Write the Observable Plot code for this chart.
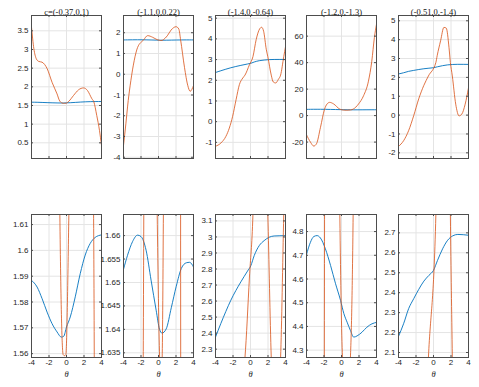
<!DOCTYPE html>
<html><head><meta charset="utf-8">
<script src="https://cdn.jsdelivr.net/npm/d3@7"></script>
<script src="https://cdn.jsdelivr.net/npm/@observablehq/plot@0.6"></script>
<style>
body{margin:0;background:#fff;}
#chart{position:relative;width:479px;height:387px;overflow:hidden;}
#chart svg{position:absolute;}
</style></head><body><div id="chart"></div>
<script>
const titles = ["c=(-0.37,0,1)", "(-1.1,0,0.22)", "(-1.4,0,-0.64)", "(-1.2,0,-1.3)", "(-0.51,0,-1.4)"];
const xTicks = [-4, -2, 0, 2, 4];
const xLimits = [-4, 4];
const thetaLabel = "θ";

const topYTicks = [
  [0.5, 1, 1.5, 2, 2.5, 3, 3.5],
  [-4, -3, -2, -1, 0, 1, 2],
  [-1, 0, 1, 2, 3, 4, 5],
  [-20, 0, 20, 40, 60],
  [-2, -1, 0, 1, 2, 3, 4, 5]
];
const topYLimits = [[0.08, 3.91], [-4.06, 2.83], [-1.78, 5.13], [-32.4, 75.6], [-2.3, 5.28]];

const bottomYTicks = [
  [1.56, 1.57, 1.58, 1.59, 1.6, 1.61],
  [1.635, 1.64, 1.645, 1.65, 1.655, 1.66],
  [2.3, 2.4, 2.5, 2.6, 2.7, 2.8, 2.9, 3, 3.1],
  [4.3, 4.4, 4.5, 4.6, 4.7, 4.8],
  [2.1, 2.2, 2.3, 2.4, 2.5, 2.6, 2.7]
];
const bottomYLimits = [[1.5585, 1.6139], [1.634, 1.6645], [2.248, 3.14], [4.269, 4.872], [2.075, 2.792]];

// blue series (theta, value)
const blue1 = [[-4,1.5884],[-3.36,1.5858],[-2.79,1.5813],[-2.22,1.5761],[-1.65,1.5716],[-1.08,1.5684],[-0.59,1.5664],[-0.32,1.5667],[0,1.5703],[0.43,1.5742],[1.0,1.582],[1.57,1.591],[2.14,1.5982],[2.71,1.6027],[3.27,1.605],[4,1.606]];
const blue2 = [[-4,1.6528],[-3.54,1.6558],[-2.97,1.6587],[-2.39,1.6601],[-2.0,1.6598],[-1.42,1.6569],[-0.85,1.6505],[-0.27,1.6441],[0.12,1.64],[0.4,1.6392],[0.88,1.6401],[1.46,1.6446],[2.03,1.6492],[2.61,1.653],[3.18,1.6542],[3.56,1.6543],[4,1.6533]];
const blue3 = [[-4,2.375],[-3.39,2.46],[-2.82,2.535],[-2.25,2.605],[-1.68,2.665],[-1.1,2.72],[-0.34,2.787],[0.04,2.821],[0.42,2.883],[1.0,2.946],[1.56,2.977],[2.13,2.998],[2.7,3.006],[4,3.008]];
const blue4 = [[-4,4.703],[-3.55,4.755],[-3.17,4.779],[-2.79,4.783],[-2.41,4.773],[-1.84,4.727],[-1.25,4.657],[-0.68,4.58],[-0.11,4.51],[0.27,4.454],[0.64,4.418],[1.02,4.383],[1.4,4.355],[1.78,4.36],[2.35,4.376],[2.91,4.397],[3.48,4.411],[4,4.417]];
const blue5 = [[-4,2.181],[-3.42,2.244],[-2.84,2.32],[-2.26,2.37],[-1.68,2.417],[-1.1,2.458],[-0.52,2.487],[0,2.512],[0.46,2.562],[1.04,2.62],[1.62,2.663],[2.2,2.685],[2.78,2.692],[4,2.688]];

// orange series (theta, value)
const orange1 = [[-4,3.6],[-3.73,3.02],[-3.45,2.75],[-3.17,2.68],[-2.8,2.66],[-2.2,2.48],[-1.65,2.12],[-1.08,1.81],[-0.76,1.614],[-0.38,1.5596],[-0.23,1.5592],[-0.08,1.5596],[0.27,1.614],[0.81,1.77],[1.38,1.92],[1.95,1.97],[2.4,1.9],[2.9,1.68],[3.12,1.6],[3.46,1.23],[3.77,0.83],[4,0.43]];
const orange2 = [[-4,-3.43],[-3.73,-2.39],[-3.46,-1.27],[-3.16,-0.31],[-2.78,0.65],[-2.39,1.29],[-1.71,1.65],[-1.24,1.86],[-0.67,1.78],[-0.15,1.665],[0.13,1.634],[0.27,1.628],[0.42,1.634],[0.56,1.665],[1.0,1.85],[1.44,2.13],[2.01,2.29],[2.32,2.18],[2.53,1.65],[2.97,0.33],[3.35,-0.55],[3.62,-0.82],[4,-0.55]];
const orange3 = [[-4,-1.19],[-3.38,-1.03],[-2.81,-0.71],[-2.42,-0.31],[-2.04,0.26],[-1.65,1.06],[-1.27,1.79],[-0.88,2.11],[-0.63,2.25],[-0.12,2.75],[0.28,3.14],[0.65,3.97],[1.04,4.48],[1.27,4.56],[1.5,4.37],[1.8,3.5],[1.98,3.14],[2.37,2.25],[2.6,1.92],[2.88,1.87],[3.19,2.05],[3.44,2.25],[3.8,3.14],[4,3.62]];
const orange4 = [[-4,-14.5],[-3.55,-20],[-3.17,-23],[-2.86,-21.3],[-2.4,-8.8],[-1.95,4.57],[-1.65,8.8],[-1.35,10],[-0.9,8.8],[-0.19,4.87],[0.11,4.27],[0.55,4.05],[1.02,4.27],[1.33,4.87],[1.95,8.8],[2.52,15],[3.08,26],[3.46,41],[3.76,59],[4,69]];
const orange5 = [[-4,-1.66],[-3.42,-1.36],[-2.85,-0.83],[-2.27,-0.04],[-1.69,0.86],[-1.12,1.56],[-0.58,2.075],[0.27,2.79],[0.42,3.15],[0.81,3.94],[1.19,4.65],[1.46,4.61],[1.77,3.59],[1.93,2.79],[2.15,2.075],[2.54,0.58],[2.92,-0.04],[3.23,0.05],[3.62,0.58],[4,1.44]];

const blues = [blue1, blue2, blue3, blue4, blue5];
const oranges = [orange1, orange2, orange3, orange4, orange5];

// layout
const frameLefts = [31, 123, 215, 306, 398];
const frameTops = [15, 214];
const FW = 70, FH = 143;
const ML = 30, MR = 8, MT = 15, MB = 30;
const TL = 2;
const BLUE = "#0072BD", ORANGE = "#D95319", GRID = "#e4e4e4", FRAME = "#4d4d4d", TEXT = "#262626";
const SANS = "'Liberation Sans', Arial, Helvetica, sans-serif";
const SERIF = "'Liberation Serif', 'Times New Roman', serif";
const fmt = d => String(d);

const chart = document.getElementById("chart");

function makePanel(i, row) {
  const isTop = row === 0;
  const yDomain = isTop ? topYLimits[i] : bottomYLimits[i];
  const yTicks = isTop ? topYTicks[i] : bottomYTicks[i];
  const marks = [
    Plot.gridX(xTicks, {stroke: GRID, strokeOpacity: 1}),
    Plot.gridY(yTicks, {stroke: GRID, strokeOpacity: 1}),
    Plot.line(blues[i], {x: d => d[0], y: d => d[1], stroke: BLUE, strokeWidth: 0.9, curve: "monotone-x", clip: true}),
    Plot.line(oranges[i], {x: d => d[0], y: d => d[1], stroke: ORANGE, strokeWidth: 0.9, strokeOpacity: 0.9, curve: "monotone-x", clip: true}),
    Plot.frame({stroke: FRAME}),
    Plot.tickX(xTicks, {x: d => d, insetTop: FH - TL, stroke: FRAME}),
    Plot.tickX(xTicks, {x: d => d, insetBottom: FH - TL, stroke: FRAME}),
    Plot.tickY(yTicks, {y: d => d, insetRight: FW - TL, stroke: FRAME}),
    Plot.tickY(yTicks, {y: d => d, insetLeft: FW - TL, stroke: FRAME}),
    Plot.axisY(yTicks, {tickSize: 0, tickPadding: 3, tickFormat: fmt, label: null, fill: TEXT})
  ];
  if (isTop) {
    marks.push(Plot.text([titles[i]], {text: d => d, frameAnchor: "top", dy: -7, fontFamily: SERIF, fontSize: 8.5, fill: "#111"}));
  } else {
    marks.push(Plot.axisX(xTicks, {tickSize: 0, tickPadding: 2, tickFormat: fmt, label: null, fill: TEXT}));
    marks.push(Plot.text([thetaLabel], {text: d => d, frameAnchor: "bottom", dy: 19, fontFamily: SERIF, fontStyle: "italic", fontSize: 8.5, fill: TEXT}));
  }
  const svg = Plot.plot({
    width: FW + ML + MR,
    height: FH + MT + MB,
    marginLeft: ML, marginRight: MR, marginTop: MT, marginBottom: MB,
    x: {domain: xLimits, axis: isTop ? null : undefined},
    y: {domain: yDomain},
    style: {background: "transparent", overflow: "visible", fontFamily: SANS, fontSize: "8px", color: TEXT, maxWidth: "none"},
    marks
  });
  svg.style.left = (frameLefts[i] - ML) + "px";
  svg.style.top = (frameTops[row] - MT) + "px";
  chart.appendChild(svg);
}

for (let row = 0; row < 2; row++) {
  for (let i = 0; i < 5; i++) makePanel(i, row);
}
</script>
</body></html>
